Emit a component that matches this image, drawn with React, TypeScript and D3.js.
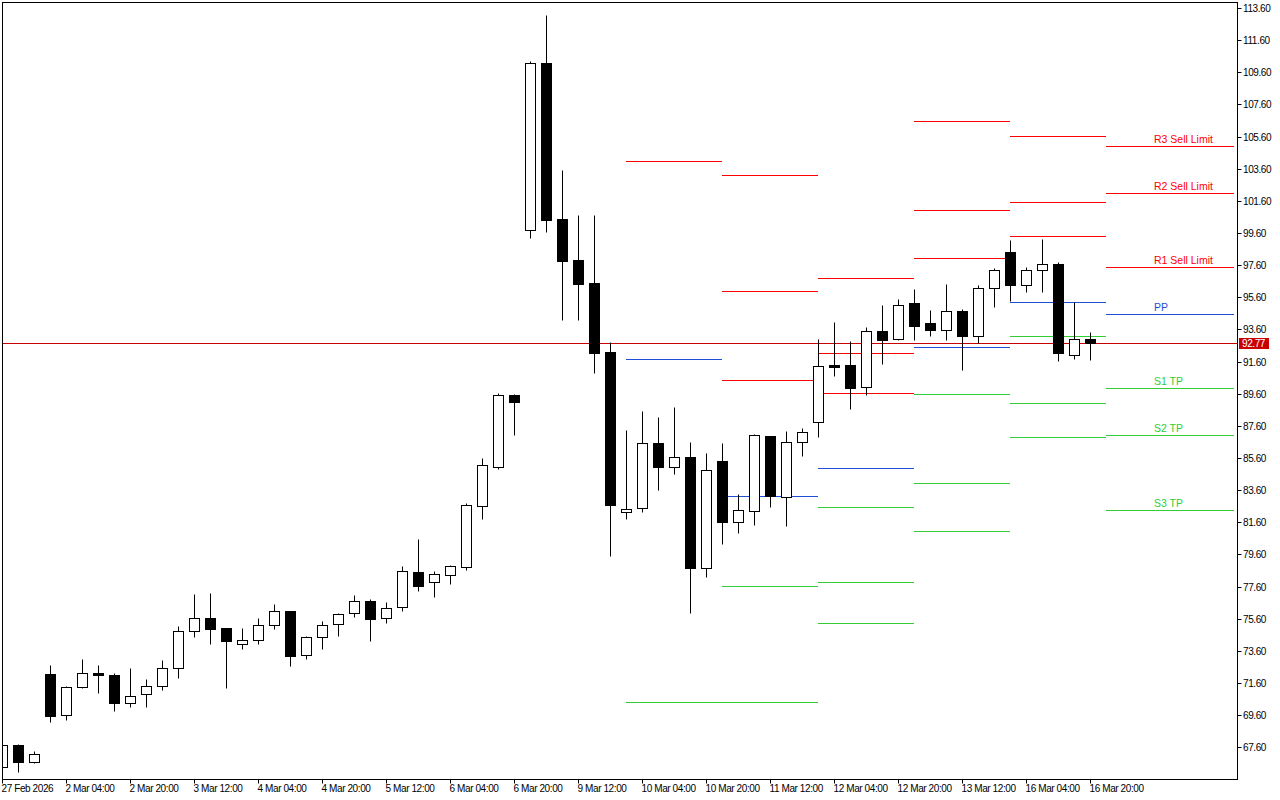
import React from "react";
import * as d3 from "d3";

// ---- Candle data (4H bars) ----
const opens = [66.39, 67.74, 66.70, 72.16, 69.59, 71.33, 72.20, 72.09, 70.37, 70.89, 71.39, 72.51, 74.81, 75.62, 75.00, 74.00, 74.25, 75.19, 76.08, 73.32, 74.44, 75.29, 75.93, 76.68, 75.62, 76.34, 78.49, 77.86, 78.30, 78.83, 82.63, 85.06, 89.52, 99.80, 110.16, 100.48, 97.92, 96.49, 92.19, 82.22, 82.47, 86.51, 85.06, 85.64, 78.73, 85.39, 81.60, 82.28, 86.95, 83.15, 86.57, 87.82, 91.37, 91.38, 89.99, 93.50, 92.98, 95.24, 94.00, 93.58, 94.75, 93.21, 96.16, 98.40, 96.34, 97.28, 97.65, 91.99, 92.98, 92.77];
const highs = [67.80, 67.78, 67.36, 72.72, 71.40, 73.09, 72.72, 72.20, 72.55, 71.85, 73.03, 75.14, 77.13, 77.20, 75.02, 75.00, 75.62, 76.49, 76.10, 74.50, 75.47, 75.95, 77.05, 76.80, 76.62, 78.88, 80.54, 78.55, 78.92, 82.78, 85.60, 89.62, 89.56, 110.30, 113.17, 103.51, 100.73, 100.73, 92.80, 87.34, 88.52, 88.15, 88.77, 86.59, 85.89, 86.51, 83.34, 87.09, 86.97, 87.28, 87.45, 92.98, 94.06, 92.88, 93.75, 95.12, 95.49, 96.11, 94.81, 96.43, 94.87, 96.36, 97.44, 99.16, 97.46, 99.23, 97.78, 95.29, 93.44, 92.77];
const lows = [66.30, 66.08, 66.64, 69.19, 69.29, 71.30, 70.96, 69.87, 70.12, 70.12, 71.18, 71.93, 74.48, 74.02, 71.27, 73.73, 74.02, 74.98, 72.67, 73.07, 73.73, 74.54, 75.72, 74.23, 75.35, 76.10, 77.34, 76.97, 77.78, 78.63, 81.82, 84.93, 87.05, 99.28, 99.69, 94.19, 94.19, 90.91, 79.47, 81.82, 82.22, 83.62, 84.62, 75.97, 78.21, 80.26, 80.95, 81.45, 82.57, 81.38, 85.74, 86.92, 90.70, 88.65, 89.54, 91.47, 92.95, 92.96, 93.21, 92.96, 91.09, 92.74, 95.01, 95.37, 95.95, 95.95, 91.65, 91.78, 91.71, 92.77];
const closes = [67.74, 66.70, 67.18, 69.56, 71.35, 72.20, 72.08, 70.37, 70.79, 71.41, 72.53, 74.81, 75.62, 74.98, 74.23, 74.25, 75.19, 76.06, 73.30, 74.44, 75.19, 75.87, 76.68, 75.60, 76.28, 78.55, 77.65, 78.36, 78.86, 82.65, 85.14, 89.50, 89.10, 110.16, 100.43, 97.88, 96.45, 92.15, 82.69, 82.41, 86.51, 85.06, 85.64, 78.77, 84.83, 81.63, 82.34, 87.01, 83.23, 86.57, 87.20, 91.30, 91.28, 89.97, 93.50, 92.96, 95.10, 93.83, 93.58, 94.75, 93.21, 96.16, 97.28, 96.38, 97.28, 97.65, 92.15, 92.98, 92.77, 92.77];

// ---- Time axis labels (every 4 bars) ----
const timeLabelIdx = [0, 4, 8, 12, 16, 20, 24, 28, 32, 36, 40, 44, 48, 52, 56, 60, 64, 68];
const timeLabels = ["27 Feb 2026", "2 Mar 04:00", "2 Mar 20:00", "3 Mar 12:00", "4 Mar 04:00", "4 Mar 20:00", "5 Mar 12:00", "6 Mar 04:00", "6 Mar 20:00", "9 Mar 12:00", "10 Mar 04:00", "10 Mar 20:00", "11 Mar 12:00", "12 Mar 04:00", "12 Mar 20:00", "13 Mar 12:00", "16 Mar 04:00", "16 Mar 20:00"];

// ---- Price axis ticks ----
const priceTicks = [113.6, 111.6, 109.6, 107.6, 105.6, 103.6, 101.6, 99.6, 97.6, 95.6, 93.6, 91.6, 89.6, 87.6, 85.6, 83.6, 81.6, 79.6, 77.6, 75.6, 73.6, 71.6, 69.6, 67.6];
const currentPrice = 92.77;

// ---- Daily pivot levels ----
const pivotStartIdx = [39, 45, 51, 57, 63, 69];
const pivotR3 = [null, 103.19, 96.78, 106.55, 105.62, 104.99];
const pivotR2 = [null, 95.97, 92.11, 101.01, 101.51, 102.07];
const pivotR1 = [104.06, 90.43, 89.62, 98.02, 99.39, 97.46];
const pivotPP = [91.74, 83.21, 84.96, 92.49, 95.29, 94.54];
const pivotS1 = [70.40, 77.61, 82.53, 89.56, 93.17, 89.93];
const pivotS2 = [null, 70.40, 77.86, 84.02, 89.00, 87.01];
const pivotS3 = [null, null, 75.33, 81.05, 86.89, 82.34];
const levelNames = ["R3", "R2", "R1", "PP", "S1", "S2", "S3"];
const levelLabels = ["R3 Sell Limit", "R2 Sell Limit", "R1 Sell Limit", "PP", "S1 TP", "S2 TP", "S3 TP"];

const W = 1280;
const H = 800;
const LEFT = 2;
const RIGHT = 1237;
const TOP = 2;
const BOTTOM = 779;

const RED = "#FF0000";
const BLUE = "#1F4FD6";
const GREEN = "#32CD32";
const PRICE_RED = "#C80000";
const FONT = "'Liberation Sans', Arial, sans-serif";

export default function App() {
  const x = d3.scaleLinear().domain([0, 69]).range([2.5, 2.5 + 16 * 69]);
  const y = d3.scaleLinear().domain([67.6, 113.6]).range([747.7, 8.5]);
  const py = (v: number) => Math.round(y(v) - 0.5) + 0.5;

  const levels = [pivotR3, pivotR2, pivotR1, pivotPP, pivotS1, pivotS2, pivotS3];
  const levelColor = (i: number) => (i < 3 ? RED : i === 3 ? BLUE : GREEN);

  const candles = opens.map((o, i) => ({ o, h: highs[i], l: lows[i], c: closes[i], i }));

  return (
    <div style={{ position: "absolute", left: 0, top: 0 }}>
      <svg width={W} height={H} style={{ display: "block", background: "#fff" }}>
        <defs>
          <clipPath id="plot">
            <rect x={LEFT + 0.5} y={TOP + 0.5} width={RIGHT - LEFT} height={BOTTOM - TOP} />
          </clipPath>
        </defs>
        <rect x={0} y={0} width={W} height={H} fill="#fff" />

        <g clipPath="url(#plot)">
          {/* pivot segments */}
          {pivotStartIdx.map((si, d) => {
            const x1 = x(si) - 0.5;
            const x2 = d < pivotStartIdx.length - 1 ? x(pivotStartIdx[d + 1]) - 0.5 : 1234;
            return levels.map((arr, li) => {
              const v = arr[d];
              if (v == null) return null;
              return (
                <line key={`p${d}-${li}`} x1={x1} x2={x2} y1={py(v)} y2={py(v)} stroke={levelColor(li)} strokeWidth={1} />
              );
            });
          })}

          {/* current price line */}
          <line x1={LEFT} x2={RIGHT} y1={py(currentPrice)} y2={py(currentPrice)} stroke={PRICE_RED} strokeWidth={1} />

          {/* candles */}
          {candles.map((d) => {
            const cx = x(d.i);
            const top = py(Math.max(d.o, d.c));
            const bot = py(Math.min(d.o, d.c));
            const bull = d.c >= d.o;
            return (
              <g key={`c${d.i}`}>
                <line x1={cx} x2={cx} y1={py(d.h)} y2={py(d.l)} stroke="#000" strokeWidth={1} />
                <rect x={cx - 5} y={top} width={10} height={Math.max(0, bot - top)} fill={bull ? "#fff" : "#000"} stroke="#000" strokeWidth={1} />
              </g>
            );
          })}
        </g>

        {/* level labels on last segment */}
        {levelLabels.map((t, li) => {
          const v = levels[li][pivotStartIdx.length - 1];
          if (v == null) return null;
          return (
            <text key={`lbl${li}`} x={1154} y={py(v) - 3.5} fontFamily={FONT} fontSize={10.5} fill={levelColor(li)}>
              {t}
            </text>
          );
        })}

        {/* frame */}
        <rect x={LEFT + 0.5} y={TOP + 0.5} width={RIGHT - LEFT} height={BOTTOM - TOP} fill="none" stroke="#000" strokeWidth={1} />

        {/* price axis */}
        {priceTicks.map((p) => (
          <g key={`yt${p}`}>
            <line x1={RIGHT + 0.5} x2={RIGHT + 4.5} y1={py(p)} y2={py(p)} stroke="#000" strokeWidth={1} />
            <text x={1243} y={py(p)} dy="0.35em" fontFamily={FONT} fontSize={10} letterSpacing={-0.4} fill="#000">
              {p.toFixed(2)}
            </text>
          </g>
        ))}
        <rect x={1239} y={py(currentPrice) - 5.5} width={30} height={11} fill={PRICE_RED} />
        <text x={1242} y={py(currentPrice)} dy="0.35em" fontFamily={FONT} fontSize={10} letterSpacing={-0.4} fill="#fff">
          {currentPrice.toFixed(2)}
        </text>

        {/* time axis */}
        {timeLabelIdx.map((k, j) => (
          <g key={`xt${k}`}>
            <line x1={x(k)} x2={x(k)} y1={BOTTOM + 0.5} y2={BOTTOM + 4.5} stroke="#000" strokeWidth={1} />
            <text x={x(k) - 1} y={792} fontFamily={FONT} fontSize={10} letterSpacing={-0.4} fill="#000">
              {timeLabels[j]}
            </text>
          </g>
        ))}
      </svg>
    </div>
  );
}
